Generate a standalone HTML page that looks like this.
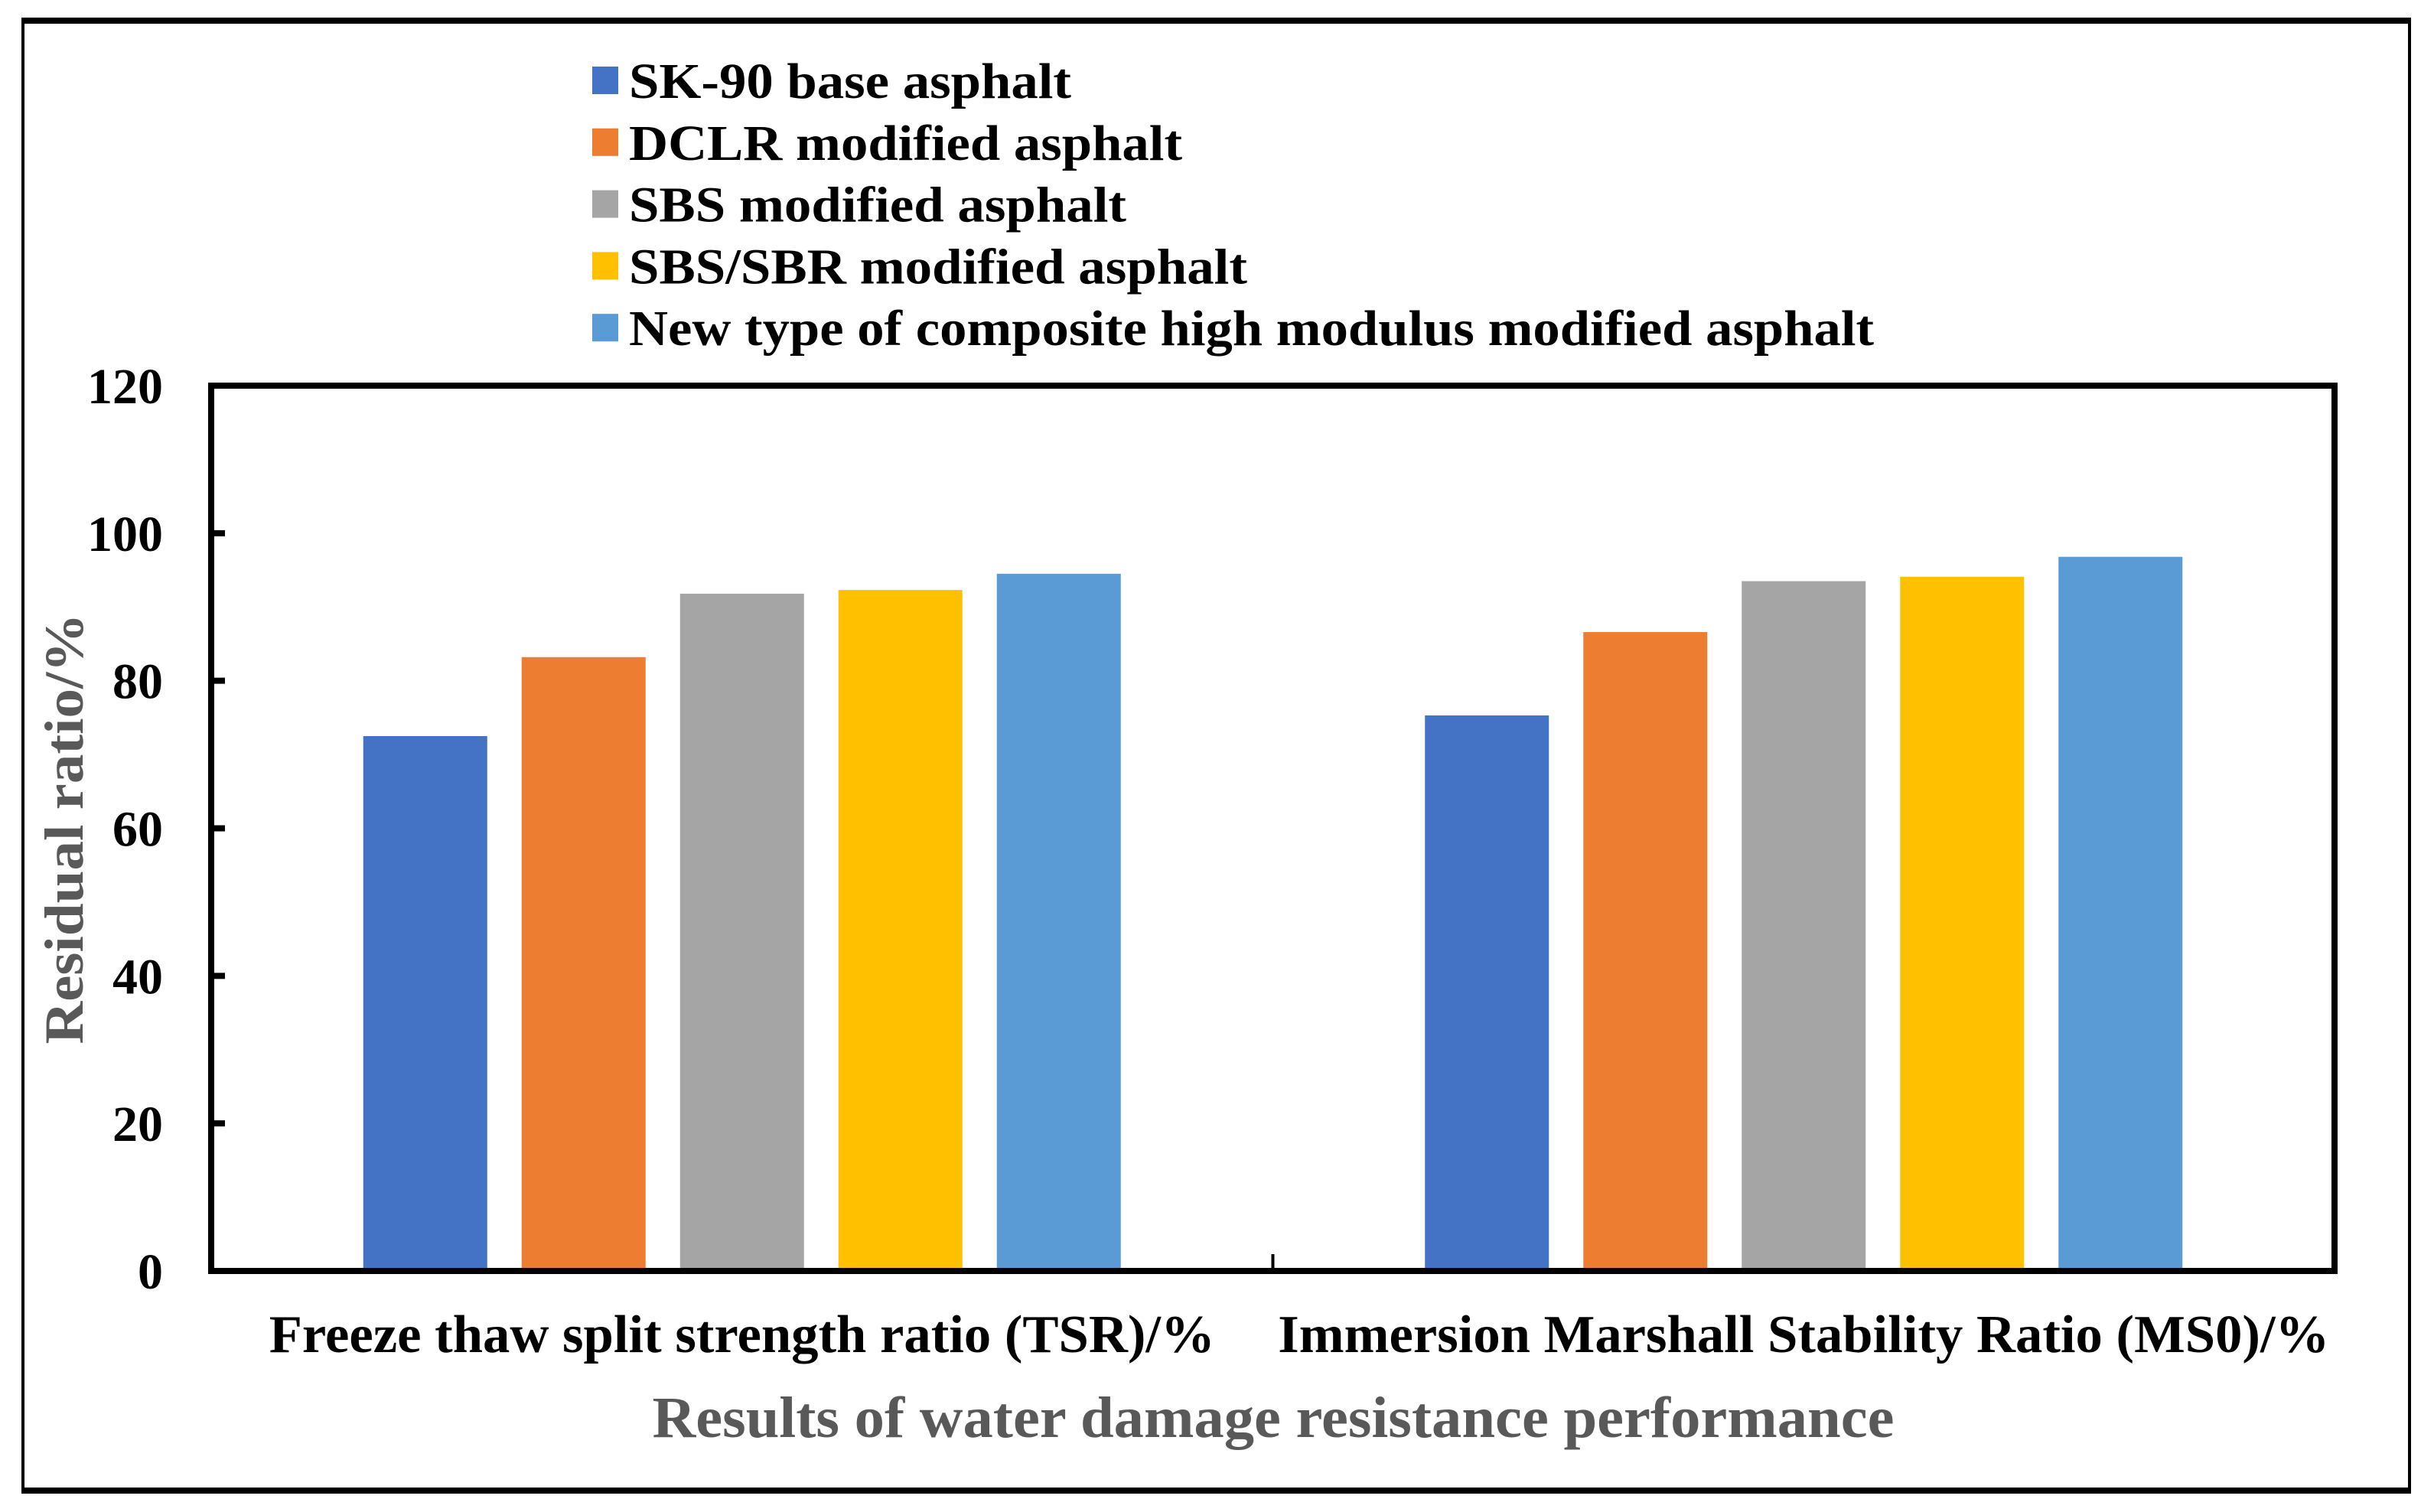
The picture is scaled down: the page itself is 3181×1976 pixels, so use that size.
<!DOCTYPE html>
<html><head><meta charset="utf-8"><style>
html,body{margin:0;padding:0;background:#fff;}
svg{display:block;font-family:"Liberation Serif",serif;font-weight:bold;}
</style></head><body>
<svg id="chart" width="3181" height="1976" viewBox="0 0 3181 1976" xmlns="http://www.w3.org/2000/svg">
<rect x="0" y="0" width="3181" height="1976" fill="#fff"/>
<g>
<line x1="28" y1="27" x2="3151" y2="27" stroke="#000" stroke-width="8"/>
<line x1="28" y1="1948" x2="3151" y2="1948" stroke="#000" stroke-width="8"/>
<line x1="30" y1="27" x2="30" y2="1948" stroke="#000" stroke-width="4"/>
<line x1="3149" y1="27" x2="3149" y2="1948" stroke="#000" stroke-width="4"/>
</g>
<g id="legend"></g>
<g id="bars"></g>
<g id="yaxis"></g>
<g id="xaxis"></g>
<rect x="276" y="504" width="2775" height="1157" fill="none" stroke="#000" stroke-width="8"/>
<text transform="translate(108,1083) rotate(-90)" text-anchor="middle" font-size="72" fill="#595959" textLength="563" lengthAdjust="spacingAndGlyphs">Residual ratio/%</text>
<text x="1664" y="1878" text-anchor="middle" font-size="76" fill="#595959" textLength="1623" lengthAdjust="spacingAndGlyphs">Results of water damage resistance performance</text>
</svg>
<script>
const categories = ["Freeze thaw split strength ratio (TSR)/%", "Immersion Marshall Stability Ratio (MS0)/%"];
const seriesNames = ["SK-90 base asphalt", "DCLR modified asphalt", "SBS modified asphalt", "SBS/SBR modified asphalt", "New type of composite high modulus modified asphalt"];
const sk90 = [72.5, 75.3];
const dclr = [83.2, 86.6];
const sbs = [91.8, 93.5];
const sbsSbr = [92.3, 94.1];
const newComposite = [94.5, 96.8];
const yTicks = [0, 20, 40, 60, 80, 100, 120];

const series = [sk90, dclr, sbs, sbsSbr, newComposite];
const colors = ["#4472C4", "#ED7D31", "#A5A5A5", "#FFC000", "#5B9BD5"];
const NS = "http://www.w3.org/2000/svg";
const L = 276, R = 3051, T = 504, B = 1661;
const yMin = 0, yMax = 120;
function yScale(v){ return B - (v - yMin) / (yMax - yMin) * (B - T); }
const catW = (R - L) / categories.length;
function xCenter(i){ return L + catW * (i + 0.5); }
const stride = 207, barW = 162;
function mk(tag, attrs){ const e = document.createElementNS(NS, tag); for (const k in attrs) e.setAttribute(k, attrs[k]); return e; }

const bars = document.getElementById('bars');
series.forEach((vals, s) => {
  vals.forEach((v, i) => {
    const cx = xCenter(i) + (s - (series.length - 1) / 2) * stride;
    const r = mk('rect', {x: cx - barW / 2, y: yScale(v), width: barW, height: B - yScale(v), fill: colors[s]});
    
    
    bars.appendChild(r);
  });
});

const yaxis = document.getElementById('yaxis');
yTicks.forEach(t => {
  const y = yScale(t);
  const tk = mk('line', {x1: L, x2: L + 18, y1: y, y2: y, stroke: '#000', 'stroke-width': 8});
  
  
  yaxis.appendChild(tk);
  const lb = mk('text', {x: 213, y: y + 23, 'text-anchor': 'end', 'font-size': 66, fill: '#000'});
  lb.textContent = t;
  
  
  yaxis.appendChild(lb);
});

const xaxis = document.getElementById('xaxis');
for (let i = 1; i < categories.length; i++) {
  const x = L + catW * i;
  const tk = mk('line', {x1: x, x2: x, y1: B - 22, y2: B, stroke: '#000', 'stroke-width': 4});
  
  
  xaxis.appendChild(tk);
}
const catLens = [1236, 1374];
categories.forEach((c, i) => {
  const lb = mk('text', {x: xCenter(i), y: 1767, 'text-anchor': 'middle', 'font-size': 70, fill: '#000', textLength: catLens[i], lengthAdjust: 'spacingAndGlyphs'});
  lb.textContent = c;
  
  
  xaxis.appendChild(lb);
});

const legend = document.getElementById('legend');
const legLens = [578, 723, 650, 808, 1627];
seriesNames.forEach((n, s) => {
  const cy = 105 + s * 80.8;
  const sw = mk('rect', {x: 774, y: cy - 18, width: 34, height: 36, fill: colors[s]});
  
  
  legend.appendChild(sw);
  const tx = mk('text', {x: 822, y: cy + 23, 'font-size': 66, fill: '#000', textLength: legLens[s], lengthAdjust: 'spacingAndGlyphs'});
  tx.textContent = n;
  
  
  legend.appendChild(tx);
});
</script>
</body></html>
